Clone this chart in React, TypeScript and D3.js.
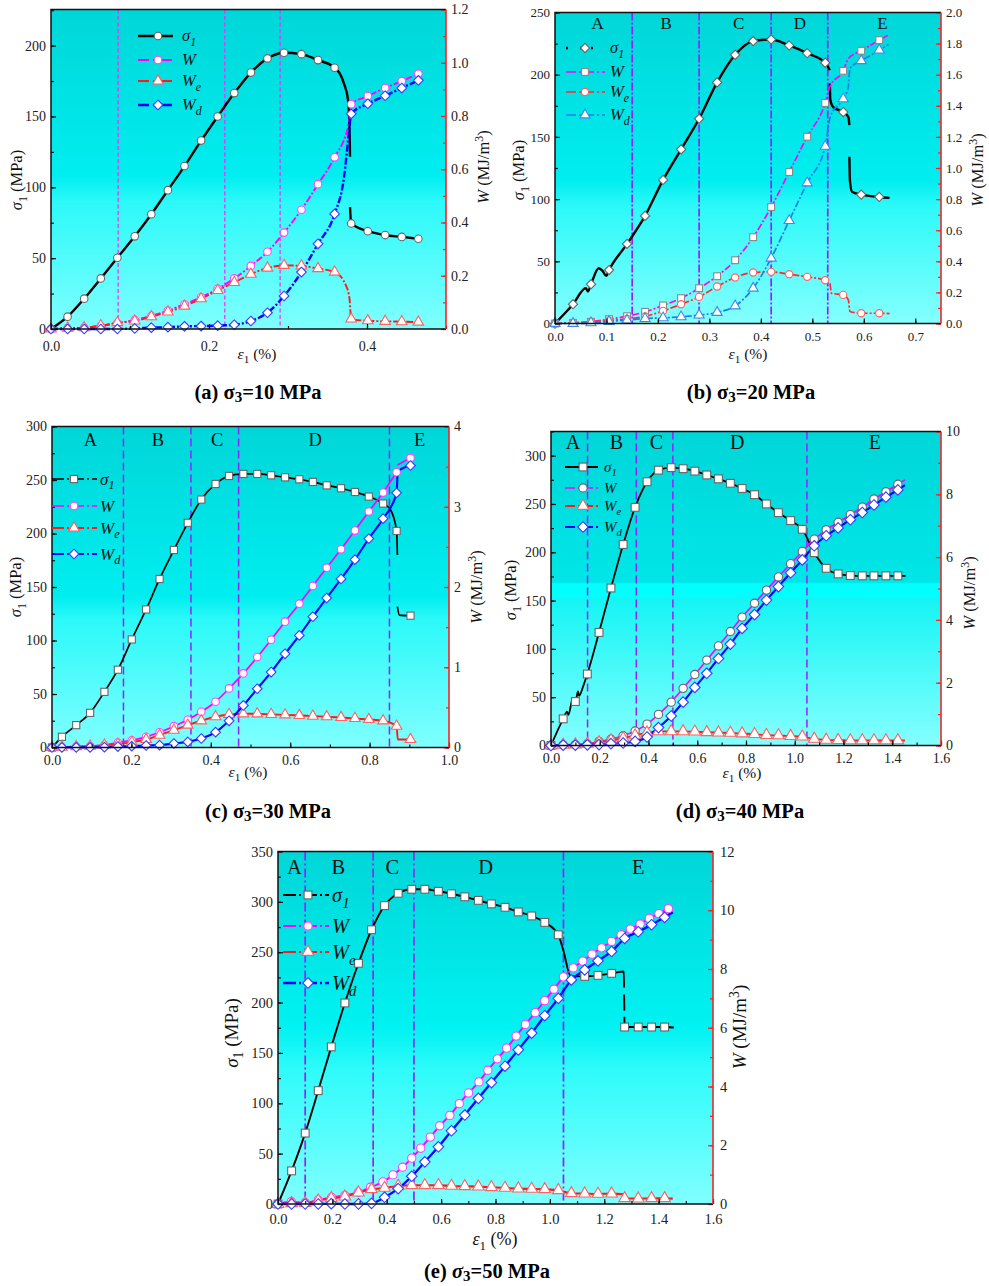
import React, { useEffect, useRef } from "react";
import * as d3 from "d3";

// [strain, value] has a marker, [strain, value, 0] is line only, null breaks the line
type Pt = [number, number] | [number, number, number] | null;

const FONT = "'Liberation Serif', 'Times New Roman', serif";

// (a) 10 MPa
const aSigma: Pt[] = [[0,0],[.021,8.7],[.042,21.4],[.063,35.7],[.084,50.3],[.106,65.4],[.127,81],[.148,98],[.169,115],[.19,133],[.211,150],[.232,166.5],[.253,181],[.274,191],[.295,195],[.317,194],[.338,189.8],[.359,184.4],[.371,173,0],[.376,161.5,0],[.378,138,0],[.3785,121.6,0],null,[.3785,86,0],[.38,74.5],[.401,69],[.423,66.3],[.444,65],[.465,63.7]];
const aW: Pt[] = [[0,0],[.021,.003],[.042,.005],[.063,.011],[.084,.021],[.106,.034],[.127,.049],[.148,.069],[.169,.093],[.19,.119],[.211,.151],[.232,.19],[.253,.237],[.274,.29],[.295,.362],[.317,.448],[.338,.544],[.359,.645],[.377,.772,0],[.38,.844],[.401,.875],[.423,.905],[.444,.931],[.465,.959]];
const aWe: Pt[] = [[0,0],[.021,.003],[.042,.005],[.063,.0125],[.084,.024],[.106,.03],[.127,.046],[.148,.064],[.169,.086],[.19,.114],[.211,.145],[.232,.175],[.253,.206],[.274,.229],[.295,.239],[.317,.237],[.338,.227],[.359,.214],[.374,.159,0],[.378,.109,0],[.38,.0375],[.401,.031],[.423,.029],[.444,.0275],[.465,.026]];
const aWd: Pt[] = [[0,0],[.021,0],[.042,0],[.063,0],[.084,0],[.106,.002],[.127,.005],[.148,.007],[.169,.01],[.19,.011],[.211,.0125],[.232,.016],[.253,.03],[.274,.061],[.295,.124],[.317,.214],[.338,.32],[.359,.432],[.371,.572,0],[.377,.735,0],[.38,.808],[.401,.846],[.423,.876],[.444,.905],[.465,.934]];
const aStages = [0.085, 0.22, 0.29];

// (b) 20 MPa
const bSigma: Pt[] = [[0,0],[.035,15.5],[.06,28.4,0],[.064,25.7,0],[.07,31.6],[.085,44.4,0],[.092,42.5,0],[.0995,38.3,0],[.105,43],[.14,64],[.175,86.5],[.21,115.4],[.245,140],[.28,164.6],[.315,193.8],[.35,216],[.385,227],[.42,228.3],[.455,223.5],[.49,217.3],[.525,209.6],[.534,203.7,0],null,[.534,193,0],[.535,179.6,0],[.541,173.7,0],[.56,170],[.57,166,0],[.572,159.5,0],null,[.572,134,0],[.573,115,0],[.577,106,0],[.595,103.6],[.63,101.7],[.65,101,0]];
const bW: Pt[] = [[0,0],[.035,.004],[.07,.011],[.105,.028],[.14,.047],[.175,.075],[.21,.116],[.245,.163],[.28,.227],[.315,.304],[.35,.407],[.385,.555],[.42,.749],[.455,.974],[.49,1.201],[.525,1.418],[.534,1.522,0],[.56,1.625],[.57,1.704,0],[.595,1.754],[.63,1.822],[.65,1.859,0]];
const bWe: Pt[] = [[0,0],[.035,.004],[.07,.011],[.105,.019],[.14,.03],[.175,.045],[.21,.081],[.245,.124],[.28,.171],[.315,.238],[.35,.296],[.385,.328],[.42,.332],[.455,.317],[.49,.3],[.525,.278],[.534,.259,0],[.537,.195,0],[.56,.184],[.57,.152,0],[.573,.077,0],[.595,.066],[.63,.066],[.65,.064,0]];
const bWd: Pt[] = [[0,0],[.035,0],[.07,.004],[.105,.013],[.14,.021],[.175,.032],[.21,.036],[.245,.043],[.28,.054],[.315,.071],[.35,.113],[.385,.227],[.42,.42],[.455,.662],[.49,.904],[.525,1.139],[.535,1.33,0],[.56,1.445],[.57,1.522,0],[.573,1.64,0],[.595,1.69],[.63,1.758],[.648,1.794,0]];
const bStages = [0.15, 0.28, 0.42, 0.53];

// (c) 30 MPa
const cSigma: Pt[] = [[0,0],[.025,10],[.061,20.9],[.096,32.4],[.132,52],[.166,72.7],[.201,101],[.237,129],[.271,157.5],[.307,184.6],[.342,210],[.376,231.7],[.412,246.3],[.446,253.8],[.482,255.7],[.517,255.7],[.552,254.4],[.587,252.5],[.623,250.7],[.657,248.2],[.692,245],[.728,242.3],[.763,238.8],[.798,234.5],[.834,228],[.853,222,0],[.868,202.4],[.87,180,0],null,[.87,131.6,0],[.875,123.8,0],[.903,123.2]];
const cW: Pt[] = [[0,0],[.025,.004],[.061,.012],[.096,.017],[.132,.03],[.166,.062],[.201,.09],[.237,.133],[.271,.19],[.307,.266],[.342,.345],[.376,.445],[.412,.57],[.446,.736],[.482,.923],[.517,1.127],[.552,1.343],[.587,1.568],[.623,1.792],[.657,2.012],[.692,2.241],[.728,2.47],[.763,2.703],[.798,2.94],[.834,3.177],[.868,3.43],null,[.87,3.52,0],[.903,3.609]];
const cWe: Pt[] = [[0,0],[.025,.004],[.061,.012],[.096,.017],[.132,.029],[.166,.042],[.201,.067],[.237,.1],[.271,.154],[.307,.216],[.342,.279],[.376,.333],[.412,.383],[.446,.412],[.482,.42],[.517,.42],[.552,.412],[.587,.407],[.623,.399],[.657,.391],[.692,.383],[.728,.374],[.763,.362],[.798,.349],[.834,.333],[.868,.266],[.871,.1,0],[.903,.1]];
const cWd: Pt[] = [[0,0],[.025,.002],[.061,.002],[.096,.002],[.132,.004],[.166,.012],[.201,.017],[.237,.025],[.271,.029],[.307,.05],[.342,.07],[.376,.112],[.412,.191],[.446,.333],[.482,.524],[.517,.732],[.552,.94],[.587,1.168],[.623,1.397],[.657,1.63],[.692,1.863],[.728,2.1],[.763,2.341],[.798,2.603],[.834,2.852],[.868,3.173],[.871,3.44,0],[.903,3.514]];
const cStages = [0.18, 0.35, 0.47, 0.85];

// (d) 40 MPa
const dSigma: Pt[] = [[0,0],[.05,27.6],[.066,35,0],[.071,31.7,0],[.09,49,0],[.1,45.5],[.111,55.9,0],[.115,51.4,0],[.134,62.8,0],[.149,74],[.197,117],[.246,163],[.296,208],[.345,246.5],[.394,273],[.441,285],[.493,287.6],[.542,286.5],[.59,284],[.639,280],[.687,276],[.736,271.4],[.784,266],[.835,259.6],[.884,250],[.933,241],[.983,232.8],[1.031,223.8],[1.08,199.6],[1.129,183.4],[1.178,177.6],[1.228,175.9],[1.277,175.6],[1.325,175.6],[1.374,175.6],[1.423,175.6],[1.455,175.5,0]];
const dW: Pt[] = [[0,0],[.05,.02],[.1,.03],[.149,.05],[.197,.13],[.246,.2],[.296,.31],[.345,.46],[.394,.68],[.441,.99],[.493,1.38],[.542,1.82],[.59,2.26],[.639,2.72],[.687,3.17],[.736,3.63],[.784,4.09],[.835,4.53],[.884,4.95],[.933,5.37],[.983,5.79],[1.031,6.18],[1.08,6.57],[1.129,6.87],[1.178,7.11],[1.228,7.35],[1.277,7.59],[1.325,7.85],[1.374,8.08],[1.423,8.32],[1.452,8.46,0]];
const dWe: Pt[] = [[0,0],[.05,.02],[.1,.03],[.149,.05],[.197,.1],[.246,.16],[.296,.23],[.345,.32],[.394,.41],[.441,.45],[.493,.45],[.542,.45],[.59,.44],[.639,.42],[.687,.41],[.736,.4],[.784,.38],[.835,.36],[.884,.33],[.933,.32],[.983,.3],[1.031,.28],[1.08,.21],[1.129,.18],[1.178,.17],[1.228,.16],[1.277,.16],[1.325,.16],[1.374,.16],[1.423,.16],[1.452,.16,0]];
const dWd: Pt[] = [[0,0],[.05,.01],[.1,.01],[.149,.02],[.197,.03],[.246,.06],[.296,.08],[.345,.13],[.394,.27],[.441,.57],[.493,.94],[.542,1.38],[.59,1.85],[.639,2.3],[.687,2.77],[.736,3.23],[.784,3.73],[.835,4.17],[.884,4.63],[.933,5.06],[.983,5.5],[1.031,5.91],[1.08,6.36],[1.129,6.68],[1.178,6.93],[1.228,7.19],[1.277,7.42],[1.325,7.66],[1.374,7.91],[1.423,8.14],[1.452,8.29,0]];
const dStages = [0.15, 0.35, 0.5, 1.05];

// (e) 50 MPa
const eSigma: Pt[] = [[0,0],[.05,32.9],[.1,70.4],[.148,112.6],[.196,156],[.246,199.6],[.296,239],[.344,272.3],[.392,296.3],[.442,308.5],[.492,312.5],[.54,312.5],[.59,310.5],[.638,308],[.687,305],[.737,301.5],[.785,298],[.835,294.6],[.884,290],[.933,286],[.981,279.6],[1.031,267.3],[1.05,251.4,0],[1.076,226.5,0],[1.128,226],[1.177,227],[1.227,229],[1.272,230.8,0],[1.273,215,0],null,[1.273,208,0],[1.274,192,0],null,[1.274,186,0],[1.275,175.7],[1.325,175.7],[1.374,175.7],[1.422,175.7],[1.456,175.3,0]];
const eW: Pt[] = [[0,0],[.049,.08],[.1,.045],[.148,.136],[.197,.227],[.246,.295],[.295,.4],[.34,.569],[.386,.751],[.423,.99],[.458,1.252],[.492,1.56],[.525,1.9],[.56,2.277],[.595,2.664],[.632,3.017],[.667,3.416],[.701,3.78],[.739,4.156],[.772,4.554],[.807,4.941],[.841,5.306],[.876,5.716],[.91,6.114],[.946,6.513],[.981,6.922],[1.015,7.31],[1.05,7.73],[1.086,8.038],[1.121,8.266],[1.155,8.505],[1.19,8.721],[1.227,8.938],[1.262,9.166],[1.296,9.359],[1.332,9.53],[1.366,9.723],[1.401,9.883],[1.436,10.054]];
const eWe: Pt[] = [[0,0],[.05,.023],[.1,.034],[.148,.114],[.196,.194],[.246,.25],[.296,.387],[.344,.5],[.392,.547],[.442,.615],[.492,.638],[.54,.638],[.59,.638],[.638,.615],[.687,.603],[.737,.592],[.785,.569],[.835,.547],[.884,.524],[.933,.512],[.981,.5],[1.031,.467],[1.079,.364],[1.128,.353],[1.177,.342],[1.227,.353],[1.27,.33,0],[1.275,.194],[1.325,.183],[1.374,.194],[1.422,.194],[1.452,.183,0]];
const eWd: Pt[] = [[0,0],[.05,0],[.1,0],[.148,0],[.196,.011],[.246,0],[.296,.0],[.344,.023],[.392,.228],[.442,.524],[.492,.945],[.54,1.435],[.59,1.947],[.638,2.493],[.687,3.028],[.737,3.598],[.785,4.133],[.835,4.691],[.884,5.249],[.933,5.818],[.981,6.41],[1.031,7.002],[1.079,7.628],[1.128,7.97],[1.177,8.277],[1.227,8.596],[1.275,9.04],[1.325,9.268],[1.374,9.507],[1.422,9.758],[1.452,9.929,0]];
const eStages = [0.1, 0.35, 0.5, 1.05];

const STAGE_LETTERS = ["A", "B", "C", "D", "E"];
const SERIES_COLORS = ["#000000", "#ff00ff", "#ff1a1a", "#0000ff"];
const MARKER_COLORS = ["#666666", "#ff44ff", "#ff6060", "#3a3aff"];

const panels: any[] = [
  {
    id: "a", rect: [51, 9.5, 446, 329], xMax: 0.5, yMax: 225.5, rMax: 1.2,
    xStep: 0.2, xMinor: 0.1, yStep: 50, rStep: 0.2, rMinor: 0.1, rFmt: ".1f",
    series: [aSigma, aW, aWe, aWd], marks: ["circle", "circle", "triangle", "diamond"], ms: 1.05,
    stages: aStages, stageColor: "#ff22ff", stageDash: "4 2.5", stageWidth: 1.2,
    letters: [], lineWidths: [2.4, 1.9, 1.9, 2.4], dash: [null, "7 2 2 2", "7 2 2 2", "7 2 2 2"],
    legend: { x0: 138, x1: 173, mx: 158, rows: [36, 60, 81, 105], tx: 182, size: 16.5, dash: [null, "11 4 3 5", "11 4 3 5", "11 4 3 5"] },
    tick: 14, xPad: 12, labelSize: 15.5, xl: [257, 359], yl: [22, 180], rl: [489, 167],
    caption: [258, 399], grad: [[0, "#00d6d8"], [0.52, "#00eef0"], [0.6, "#2cf9f9"], [1, "#80ffff"]],
    title: "(a) ", level: "10",
  },
  {
    id: "b", rect: [555, 12.5, 941, 323.5], xMax: 0.75, yMax: 250, rMax: 2,
    xStep: 0.1, xMinor: 0.1, yStep: 50, rStep: 0.2, rMinor: 0.1, rFmt: ".1f",
    series: [bSigma, bW, bWe, bWd], marks: ["diamond", "square", "circle", "triangle"], ms: 1,
    stages: bStages, stageColor: "#9a1fff", stageDash: "8 2 2 2", stageWidth: 1.7,
    letters: [0.083, 0.216, 0.357, 0.476, 0.636], letterY: 29, letterSize: 17, lineWidths: [2.4, 1.7, 1.7, 1.7],
    dash: [null, "7 2 2 2", "7 2 2 2", "7 2 2 2"], colors: ["#000000", "#ff00ff", "#ff2a2a", "#1a80e6"], mColors: ["#666666", "#888888", "#ff6060", "#3a8ae6"],
    legend: { x0: 566, x1: 605, mx: 585, rows: [48, 72, 92, 115], tx: 610, size: 16.5, dash: ["2 12 8 3", "10 3 2 3", "10 3 2 3", "10 3 2 3"] },
    tick: 13, xPad: 8, labelSize: 15.5, xl: [748, 359], yl: [524, 170], rl: [983, 170],
    caption: [751, 399], grad: [[0, "#00d6d8"], [0.54, "#00eef0"], [0.62, "#2cf9f9"], [1, "#85ffff"]],
    title: "(b) ", level: "20",
  },
  {
    id: "c", rect: [52, 426.5, 449, 747.5], xMax: 1, yMax: 300, rMax: 4,
    xStep: 0.2, xMinor: 0.1, yStep: 50, rStep: 1, rMinor: 0.5, rFmt: "d",
    series: [cSigma, cW, cWe, cWd], marks: ["square", "circle", "triangle", "diamond"], ms: 1.05,
    stages: cStages, stageColor: "#9a1fff", stageDash: "8 4", stageWidth: 1.5,
    letters: [0.097, 0.267, 0.416, 0.663, 0.926], letterY: 446, letterSize: 18.5, lineWidths: [1.7, 1.7, 1.9, 2.1],
    dash: [null, null, null, null],
    legend: { x0: 52, x1: 97, mx: 74, rows: [479, 506, 528, 554], tx: 100, size: 17, dash: ["12 3 2 3", "12 3 2 3", "12 3 2 3", "12 3 2 3"] },
    tick: 14, xPad: 8, labelSize: 15.5, xl: [248, 777], yl: [21, 587], rl: [482, 587],
    caption: [268, 818], grad: [[0, "#00d6d8"], [0.53, "#00eef0"], [0.6, "#2cf9f9"], [1, "#80ffff"]],
    title: "(c) ", level: "30",
  },
  {
    id: "d", rect: [551, 431.5, 941, 745.5], xMax: 1.6, yMax: 325, rMax: 10,
    xStep: 0.2, xMinor: 0.1, yStep: 50, rStep: 2, rMinor: 1, rFmt: "d",
    series: [dSigma, dW, dWe, dWd], marks: ["square", "circle", "triangle", "diamond"], ms: 1.15,
    stages: dStages, stageColor: "#9a1fff", stageDash: "8 4", stageWidth: 1.5,
    letters: [0.09, 0.268, 0.433, 0.764, 1.329], letterY: 449, letterSize: 20, lineWidths: [1.8, 1.6, 1.9, 2.1],
    dash: [null, null, null, null], mColors: ["#666666", "#666666", "#ff6060", "#3a3aff"],
    legend: { x0: 565, x1: 598, mx: 583, rows: [467, 488, 506, 527], tx: 604, size: 15, dash: [null, "10 3 2 3", "10 3 2 3", "10 3 2 3"] },
    tick: 14, xPad: 8, labelSize: 15.5, xl: [742, 778], yl: [516, 590], rl: [975, 593],
    caption: [740, 818], grad: [[0, "#00d6d8"], [0.48, "#00e6e8"], [0.485, "#00ffff"], [0.525, "#00ffff"], [0.53, "#14f4f4"], [1, "#85ffff"]],
    title: "(d) ", level: "40",
  },
  {
    id: "e", rect: [278, 851.5, 713, 1204], xMax: 1.6, yMax: 350, rMax: 12,
    xStep: 0.2, xMinor: 0.1, yStep: 50, rStep: 2, rMinor: 1, rFmt: "d",
    series: [eSigma, eW, eWe, eWd], marks: ["square", "circle", "triangle", "diamond"], ms: 1.15,
    stages: eStages, stageColor: "#9a1fff", stageDash: "9 3 2 3", stageWidth: 1.7,
    letters: [0.06, 0.222, 0.421, 0.764, 1.325], letterY: 874, letterSize: 20.5, lineWidths: [1.9, 1.9, 2.1, 2.3],
    dash: [null, null, null, null],
    legend: { x0: 283, x1: 329, mx: 308, rows: [895, 926, 952, 983], tx: 332, size: 20.5, dash: ["13 3 2 3", "13 3 2 3", "13 3 2 3", "13 3 2 3"] },
    tick: 14.5, xPad: 10, rPad: 7, labelSize: 18, xl: [495, 1245], yl: [238, 1033], rl: [746, 1027],
    caption: [487, 1278], grad: [[0, "#00d6d8"], [0.5, "#00f2f2"], [0.62, "#30fbfb"], [1, "#80ffff"]],
    title: "(e) ", level: "50", italicSigma: true,
  },
];

function addMark(g: any, kind: string, cx: number, cy: number, color: string, k: number) {
  let m: any;
  if (kind === "circle") {
    m = g.append("circle").attr("cx", cx).attr("cy", cy).attr("r", 3.6 * k);
  } else if (kind === "square") {
    const s = 3.4 * k;
    m = g.append("rect").attr("x", cx - s).attr("y", cy - s).attr("width", 2 * s).attr("height", 2 * s);
  } else if (kind === "diamond") {
    const s = 4.6 * k;
    m = g.append("path").attr("d", `M${cx},${cy - s}L${cx + s},${cy}L${cx},${cy + s}L${cx - s},${cy}Z`);
  } else {
    m = g.append("path")
      .attr("d", d3.symbol().type(d3.symbolTriangle).size(44 * k * k)())
      .attr("transform", `translate(${cx},${cy})`);
  }
  m.attr("fill", "#ffffff").attr("stroke", color).attr("stroke-width", 1.1);
}

// plain text + smaller shifted suffix (sub or sup), returns the text node
function subText(g: any, parts: [string, string?, string?][], size: number) {
  const t = g.append("text").attr("font-family", FONT).attr("font-size", size).attr("fill", "#111");
  parts.forEach((p) => {
    const s = t.append("tspan").text(p[0]);
    if (p[1] === "i") s.attr("font-style", "italic");
    if (p[2] === "sub") s.attr("font-size", size * 0.72).attr("dy", size * 0.28);
    if (p[2] === "back") s.attr("dy", -size * 0.28);
    if (p[2] === "sup") s.attr("font-size", size * 0.72).attr("dy", -size * 0.36);
    if (p[2] === "unsup") s.attr("dy", size * 0.36);
  });
  return t;
}

function drawPanel(svg: any, p: any) {
  const [x0, y0, x1, y1] = p.rect;
  const x = d3.scaleLinear().domain([0, p.xMax]).range([x0, x1]);
  const y = d3.scaleLinear().domain([0, p.yMax]).range([y1, y0]);
  const r = d3.scaleLinear().domain([0, p.rMax]).range([y1, y0]);
  const colors = p.colors || SERIES_COLORS;
  const mColors = p.mColors || MARKER_COLORS;

  const grad = svg.append("defs").append("linearGradient")
    .attr("id", "bg-" + p.id).attr("x1", 0).attr("y1", 0).attr("x2", 0).attr("y2", 1);
  p.grad.forEach((s: any) => grad.append("stop").attr("offset", s[0]).attr("stop-color", s[1]));
  svg.append("rect").attr("x", x0).attr("y", y0).attr("width", x1 - x0).attr("height", y1 - y0)
    .attr("fill", `url(#bg-${p.id})`);

  // stage boundaries
  p.stages.forEach((s: number) => {
    svg.append("line").attr("x1", x(s)).attr("x2", x(s)).attr("y1", y0).attr("y2", y1)
      .attr("stroke", p.stageColor).attr("stroke-width", p.stageWidth).attr("stroke-dasharray", p.stageDash);
  });
  p.letters.forEach((l: number, i: number) => {
    svg.append("text").attr("x", x(l)).attr("y", p.letterY).attr("text-anchor", "middle")
      .attr("font-family", FONT).attr("font-size", p.letterSize).attr("fill", "#111").text(STAGE_LETTERS[i]);
  });

  // curves
  p.series.forEach((pts: Pt[], i: number) => {
    const sc = i === 0 ? y : r;
    const line = d3.line<any>()
      .defined((d) => d !== null)
      .x((d) => x(d[0]))
      .y((d) => sc(d[1]))
      .curve(d3.curveMonotoneX);
    svg.append("path").attr("d", line(pts)).attr("fill", "none")
      .attr("stroke", colors[i]).attr("stroke-width", p.lineWidths[i])
      .attr("stroke-dasharray", p.dash[i]);
  });
  p.series.forEach((pts: Pt[], i: number) => {
    const sc = i === 0 ? y : r;
    const g = svg.append("g");
    pts.forEach((d) => {
      if (d && d.length === 2) addMark(g, p.marks[i], x(d[0]), sc(d[1]), mColors[i], p.ms);
    });
  });

  // axes
  const xMajor = d3.range(0, p.xMax + 1e-6, p.xStep);
  const xMinor = d3.range(0, p.xMax + 1e-6, p.xMinor);
  const yMajor = d3.range(0, p.yMax + 1e-6, p.yStep);
  const yMinor = d3.range(0, p.yMax + 1e-6, p.yStep / 2);
  const rMajor = d3.range(0, p.rMax + 1e-6, p.rStep);
  const rMinor = d3.range(0, p.rMax + 1e-6, p.rMinor);

  const style = (g: any, color: string) => {
    g.selectAll(".domain").remove();
    g.selectAll("line").attr("stroke", color).attr("stroke-width", 1.2);
    g.selectAll("text").attr("font-family", FONT).attr("font-size", p.tick).attr("fill", "#222");
  };
  const put = (axis: any, tx: number, ty: number, color: string) => {
    const g = svg.append("g").attr("transform", `translate(${tx},${ty})`).call(axis);
    style(g, color);
  };
  put(d3.axisBottom(x).tickValues(xMinor).tickSize(-3).tickFormat(() => ""), 0, y1, "#111");
  put(d3.axisBottom(x).tickValues(xMajor).tickSize(-5).tickPadding(p.xPad).tickFormat(d3.format(".1f") as any), 0, y1, "#111");
  put(d3.axisLeft(y).tickValues(yMinor).tickSize(-3).tickFormat(() => ""), x0, 0, "#111");
  put(d3.axisLeft(y).tickValues(yMajor).tickSize(-5).tickPadding(5).tickFormat(d3.format("d") as any), x0, 0, "#111");
  put(d3.axisRight(r).tickValues(rMinor).tickSize(-3).tickFormat(() => ""), x1, 0, "#ff2020");
  put(d3.axisRight(r).tickValues(rMajor).tickSize(-5).tickPadding(p.rPad || 5).tickFormat(d3.format(p.rFmt) as any), x1, 0, "#ff2020");

  svg.append("path").attr("d", `M${x1},${y0}H${x0}V${y1}H${x1}`).attr("fill", "none")
    .attr("stroke", "#111").attr("stroke-width", 1.5);
  svg.append("line").attr("x1", x1).attr("x2", x1).attr("y1", y0).attr("y2", y1)
    .attr("stroke", "#ff2020").attr("stroke-width", 1.6);

  // legend
  const lg = p.legend;
  const names: [string, string][] = [["σ", "1"], ["W", ""], ["W", "e"], ["W", "d"]];
  names.forEach((n, i) => {
    const ry = lg.rows[i];
    svg.append("line").attr("x1", lg.x0).attr("x2", lg.x1).attr("y1", ry).attr("y2", ry)
      .attr("stroke", colors[i]).attr("stroke-width", p.lineWidths[i]).attr("stroke-dasharray", lg.dash[i]);
    addMark(svg, p.marks[i], lg.mx, ry, mColors[i], p.ms);
    const t = subText(svg, n[1] ? [[n[0], "i"], [n[1], "i", "sub"]] : [[n[0], "i"]], lg.size);
    t.attr("x", lg.tx).attr("y", ry + lg.size * 0.33);
  });

  // axis titles
  subText(svg, [["ε", "i"], ["1", "", "sub"], [" (%)", "", "back"]], p.labelSize)
    .attr("x", p.xl[0]).attr("y", p.xl[1]).attr("text-anchor", "middle");
  subText(svg, [["σ", "i"], ["1", "", "sub"], [" (MPa)", "", "back"]], p.labelSize + 1)
    .attr("text-anchor", "middle")
    .attr("transform", `translate(${p.yl[0]},${p.yl[1]}) rotate(-90)`);
  subText(svg, [["W", "i"], [" (MJ/m"], ["3", "", "sup"], [")", "", "unsup"]], p.labelSize + 1)
    .attr("text-anchor", "middle")
    .attr("transform", `translate(${p.rl[0]},${p.rl[1]}) rotate(-90)`);

  // caption
  const cap = svg.append("text").attr("x", p.caption[0]).attr("y", p.caption[1]).attr("text-anchor", "middle")
    .attr("font-family", FONT).attr("font-size", 20.5).attr("font-weight", "bold").attr("fill", "#000");
  cap.append("tspan").text(p.title);
  const sig = cap.append("tspan").text("σ");
  if (p.italicSigma) sig.attr("font-style", "italic");
  cap.append("tspan").text("3").attr("font-size", 15).attr("dy", 3);
  cap.append("tspan").text(`=${p.level} MPa`).attr("dy", -3);
}

export default function App() {
  const ref = useRef<SVGSVGElement>(null);
  useEffect(() => {
    const svg = d3.select(ref.current);
    svg.selectAll("*").remove();
    panels.forEach((p) => drawPanel(svg, p));
  }, []);
  return (
    <svg
      ref={ref}
      width={989}
      height={1286}
      viewBox="0 0 989 1286"
      style={{ position: "absolute", left: 0, top: 0, background: "#fff" }}
    />
  );
}
